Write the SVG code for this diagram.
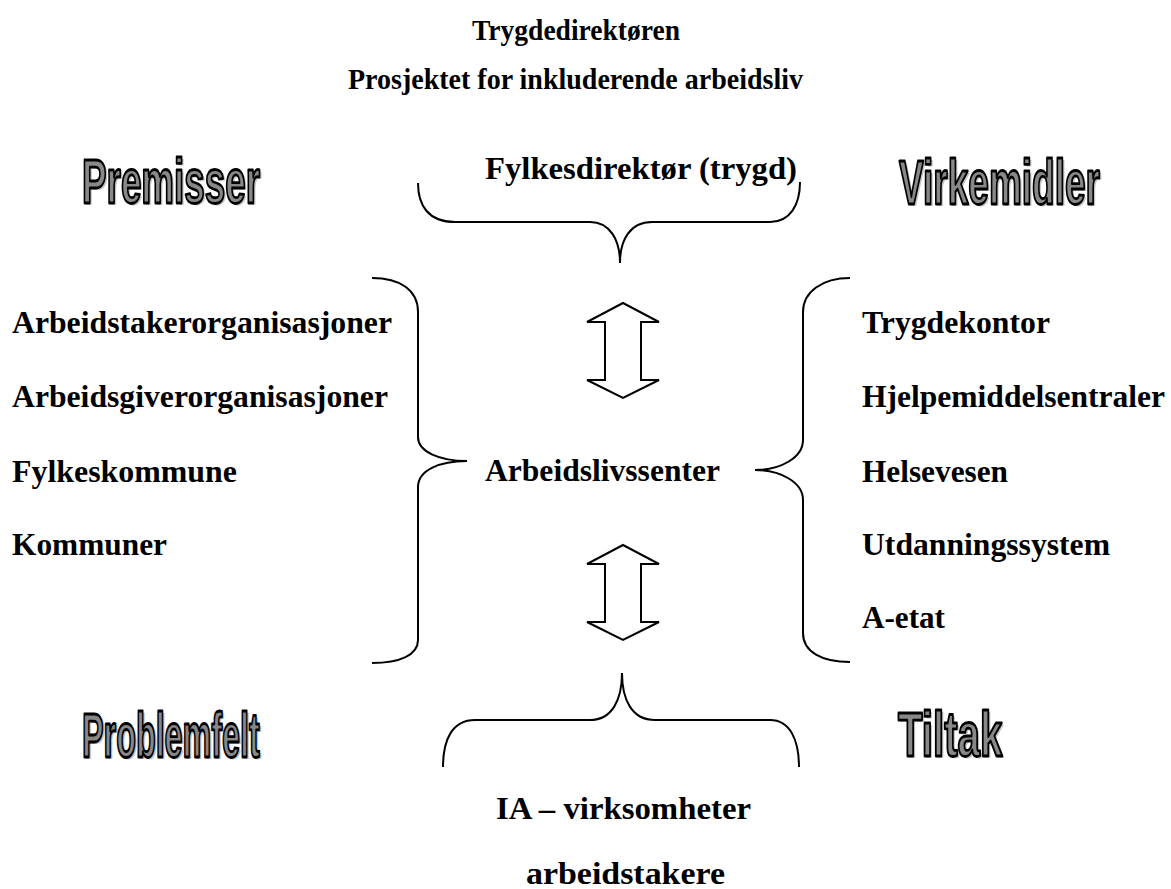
<svg xmlns="http://www.w3.org/2000/svg" width="1171" height="889" viewBox="0 0 1171 889">
  <style>
    .t { font-family: "Liberation Serif", "Times New Roman", serif; font-weight: bold; font-size: 31px; fill: #000; }
    .h { font-size: 29px; }
    .wa { font-family: "Liberation Sans", Arial, sans-serif; font-weight: bold; font-size: 63px; fill: #888888; stroke: #000; stroke-width: 2.8; stroke-linejoin: round; }
    .sh { font-family: "Liberation Sans", Arial, sans-serif; font-weight: bold; font-size: 63px; fill: #c4c4c4; }
    .brace { fill: none; stroke: #000; stroke-width: 2; }
    .dbl { fill: #fff; stroke: #000; stroke-width: 2; stroke-linejoin: miter; }
  </style>
  <rect width="1171" height="889" fill="#fff"/>

  <!-- headings -->
  <g id="title">
    <text class="t h" x="472" y="40" textLength="208" lengthAdjust="spacingAndGlyphs">Trygdedirektøren</text>
    <text class="t h" x="348" y="89" textLength="455" lengthAdjust="spacingAndGlyphs">Prosjektet for inkluderende arbeidsliv</text>
  </g>

  <!-- corner labels (condensed outline lettering) -->
  <g id="premisser">
    <text class="sh" transform="translate(84,205) scale(0.584,1)" textLength="305" lengthAdjust="spacingAndGlyphs">Premisser</text>
    <text class="wa" transform="translate(82,203) scale(0.584,1)" textLength="305" lengthAdjust="spacingAndGlyphs">Premisser</text>
  </g>
  <g id="virkemidler">
    <text class="sh" transform="translate(901,206) scale(0.586,1)" textLength="343" lengthAdjust="spacingAndGlyphs">Virkemidler</text>
    <text class="wa" transform="translate(899,204) scale(0.586,1)" textLength="343" lengthAdjust="spacingAndGlyphs">Virkemidler</text>
  </g>
  <g id="problemfelt">
    <text class="sh" transform="translate(84,759) scale(0.514,1)" textLength="346" lengthAdjust="spacingAndGlyphs">Problemfelt</text>
    <text class="wa" transform="translate(82,757) scale(0.514,1)" textLength="346" lengthAdjust="spacingAndGlyphs">Problemfelt</text>
  </g>
  <g id="tiltak">
    <text class="sh" transform="translate(900,758) scale(0.632,1)" textLength="165" lengthAdjust="spacingAndGlyphs">Tiltak</text>
    <text class="wa" transform="translate(898,756) scale(0.632,1)" textLength="165" lengthAdjust="spacingAndGlyphs">Tiltak</text>
  </g>

  <!-- top node -->
  <g id="fylkesdirektor">
    <text class="t" x="485" y="179" textLength="312" lengthAdjust="spacingAndGlyphs">Fylkesdirektør (trygd)</text>
  </g>

  <!-- left group -->
  <g id="premiss-liste">
    <text class="t" x="12" y="333" textLength="380" lengthAdjust="spacingAndGlyphs">Arbeidstakerorganisasjoner</text>
    <text class="t" x="12" y="407" textLength="376" lengthAdjust="spacingAndGlyphs">Arbeidsgiverorganisasjoner</text>
    <text class="t" x="12" y="482" textLength="225" lengthAdjust="spacingAndGlyphs">Fylkeskommune</text>
    <text class="t" x="12" y="555" textLength="155" lengthAdjust="spacingAndGlyphs">Kommuner</text>
  </g>

  <!-- centre node -->
  <g id="arbeidslivssenter">
    <text class="t" x="485" y="481" textLength="235" lengthAdjust="spacingAndGlyphs">Arbeidslivssenter</text>
  </g>

  <!-- right group -->
  <g id="virkemiddel-liste">
    <text class="t" x="862" y="333" textLength="188" lengthAdjust="spacingAndGlyphs">Trygdekontor</text>
    <text class="t" x="862" y="407" textLength="303" lengthAdjust="spacingAndGlyphs">Hjelpemiddelsentraler</text>
    <text class="t" x="862" y="482" textLength="146" lengthAdjust="spacingAndGlyphs">Helsevesen</text>
    <text class="t" x="862" y="555" textLength="248" lengthAdjust="spacingAndGlyphs">Utdanningssystem</text>
    <text class="t" x="862" y="628" textLength="83" lengthAdjust="spacingAndGlyphs">A-etat</text>
  </g>

  <!-- bottom node -->
  <g id="ia-virksomheter">
    <text class="t" x="496" y="819" textLength="255" lengthAdjust="spacingAndGlyphs">IA – virksomheter</text>
    <text class="t" x="526" y="884" textLength="199" lengthAdjust="spacingAndGlyphs">arbeidstakere</text>
  </g>

  <!-- braces and double arrows -->
  <g id="connectors">
    <path class="brace" d="M418,183 C418,205 428,222 455,222 L590,222 C610,222 620,240 620,263 C620,240 630,222 652,222 L770,222 C790,222 800,205 800,182"/>
    <path class="brace" d="M372,278 C400,278 418,290 418,312 L418,437 C418,452 440,461 467,461 C440,461 418,470 418,487 L418,640 C418,655 400,663 372,663"/>
    <path class="brace" d="M850,278 C822,278 803,292 803,312 L803,440 C803,458 780,470 755,470 C780,470 803,482 803,500 L803,633 C803,652 822,662 850,662"/>
    <path class="brace" d="M443,767 C443,740 452,720 475,720 L590,720 C612,720 622,700 622,673 C622,700 632,720 655,720 L770,720 C790,720 799,740 799,767"/>
    <polygon class="dbl" points="623,303 659,322 641,322 641,380 659,380 623,398 587,380 605,380 605,322 587,322"/>
    <polygon class="dbl" points="623,545 659,564 641,564 641,622 659,622 623,640 587,622 605,622 605,564 587,564"/>
  </g>
</svg>
